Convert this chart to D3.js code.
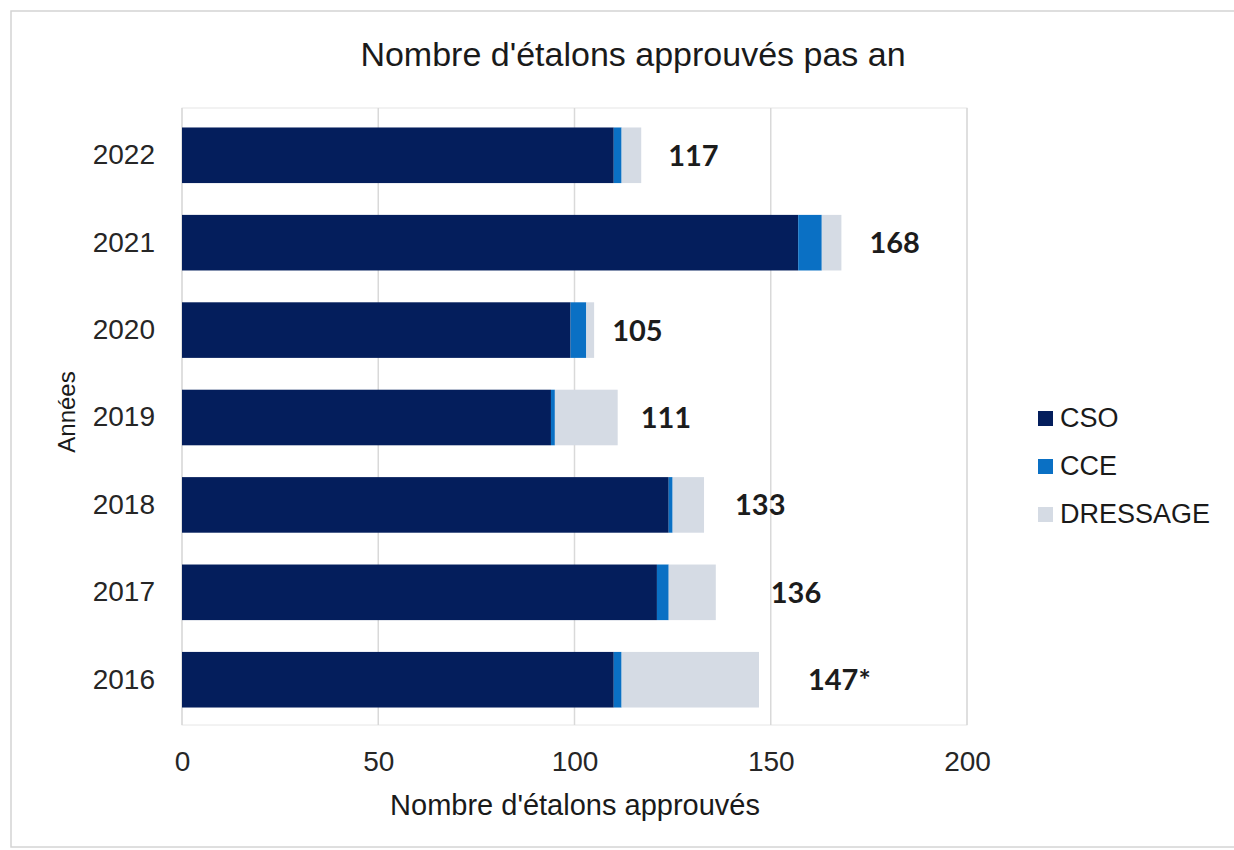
<!DOCTYPE html>
<meta charset="utf-8">
<title>Nombre d'étalons approuvés pas an</title>
<script src="https://d3js.org/d3.v7.min.js"></script>
<style>
  body { margin: 0; background: #fff; }
  text { font-family: "Liberation Sans", Arial, sans-serif; }
  .val { font-family: Lato, "Open Sans", sans-serif; font-weight: bold; }
</style>
<body>
<div id="chart"></div>
<script>
// data
var years = ["2022", "2021", "2020", "2019", "2018", "2017", "2016"];
var cso = [110, 157, 99, 94, 124, 121, 110];
var cce = [2, 6, 4, 1, 1, 3, 2];
var dressage = [5, 5, 2, 16, 8, 12, 35];
var totalLabels = ["117", "168", "105", "111", "133", "136", "147*"];
var seriesNames = ["CSO", "CCE", "DRESSAGE"];
var seriesColors = ["#041e5c", "#0a70c4", "#d5dbe4"];
var xTicks = [0, 50, 100, 150, 200];

// hand placed labels in the original: extra px after each bar end
var labelNudge = [27, 28, 18, 23, 31, 55, 49];

var W = 1234, H = 850;
var plot = {left: 182, right: 967, top: 108, bottom: 725};

var svg = d3.select("#chart").append("svg")
    .attr("width", W)
    .attr("height", H);

// outer frame
svg.append("rect")
    .attr("x", 11).attr("y", 11)
    .attr("width", W + 10).attr("height", H - 14)
    .attr("fill", "#fff")
    .attr("stroke", "#d4d4d4")
    .attr("stroke-width", 1.5);

var table = years.map(function(y, i) {
  return {year: y, CSO: cso[i], CCE: cce[i], DRESSAGE: dressage[i]};
});
var stacked = d3.stack().keys(seriesNames)(table);

var x = d3.scaleLinear()
    .domain([0, 200])
    .range([plot.left, plot.right]);

var y = d3.scaleBand()
    .domain(years)
    .range([plot.top + 2, plot.bottom])
    .paddingInner(0.364)
    .paddingOuter(0.2);

// plot frame + gridlines
svg.append("rect")
    .attr("x", plot.left).attr("y", plot.top)
    .attr("width", plot.right - plot.left)
    .attr("height", plot.bottom - plot.top)
    .attr("fill", "none")
    .attr("stroke", "#e6e6e6");

svg.append("g")
    .selectAll("line")
    .data(xTicks)
    .join("line")
      .attr("x1", function(d) { return x(d); })
      .attr("x2", function(d) { return x(d); })
      .attr("y1", plot.top)
      .attr("y2", plot.bottom)
      .attr("stroke", "#d9d9d9")
      .attr("stroke-width", 1.5);

// bars
svg.append("g")
  .selectAll("g")
  .data(stacked)
  .join("g")
    .attr("fill", function(d, i) { return seriesColors[i]; })
  .selectAll("rect")
  .data(function(d) { return d; })
  .join("rect")
    .attr("x", function(d) { return x(d[0]); })
    .attr("y", function(d) { return y(d.data.year); })
    .attr("width", function(d) { return x(d[1]) - x(d[0]); })
    .attr("height", y.bandwidth());

// totals
var lastSeries = stacked[stacked.length - 1];
svg.append("g")
  .selectAll("text")
  .data(lastSeries)
  .join("text")
    .attr("class", "val")
    .attr("x", function(d, i) { return x(d[1]) + labelNudge[i]; })
    .attr("y", function(d) { return y(d.data.year) + y.bandwidth() / 2; })
    .attr("dy", "0.36em")
    .attr("font-size", 29)
    .attr("fill", "#1c1c1c")
    .text(function(d, i) { return totalLabels[i]; });

// y axis labels
var yAxis = svg.append("g")
    .attr("transform", "translate(" + (plot.left - 27) + ",0)")
    .call(d3.axisLeft(y).tickSize(0).tickPadding(0));
yAxis.select(".domain").remove();
yAxis.selectAll("text")
    .attr("font-size", 28)
    .attr("font-family", "Liberation Sans, Arial, sans-serif")
    .attr("fill", "#262626");

// x axis labels
var xAxis = svg.append("g")
    .attr("transform", "translate(0," + plot.bottom + ")")
    .call(d3.axisBottom(x).tickValues(xTicks).tickSize(0).tickPadding(26));
xAxis.select(".domain").remove();
xAxis.selectAll("text")
    .attr("font-size", 28)
    .attr("font-family", "Liberation Sans, Arial, sans-serif")
    .attr("fill", "#262626");

// titles
svg.append("text")
    .attr("x", 633)
    .attr("y", 66)
    .attr("text-anchor", "middle")
    .attr("font-size", 34)
    .attr("fill", "#1a1a1a")
    .text("Nombre d'étalons approuvés pas an");

svg.append("text")
    .attr("x", 575)
    .attr("y", 815)
    .attr("text-anchor", "middle")
    .attr("font-size", 29)
    .attr("fill", "#1a1a1a")
    .text("Nombre d'étalons approuvés");

svg.append("text")
    .attr("transform", "translate(75,412) rotate(-90)")
    .attr("text-anchor", "middle")
    .attr("font-size", 24)
    .attr("fill", "#1a1a1a")
    .text("Années");

// legend
var legend = svg.append("g")
  .selectAll("g")
  .data(seriesNames)
  .join("g")
    .attr("transform", function(d, i) { return "translate(1038," + (411 + i * 48) + ")"; });
legend.append("rect")
    .attr("width", 15)
    .attr("height", 15)
    .attr("fill", function(d, i) { return seriesColors[i]; });
legend.append("text")
    .attr("x", 22)
    .attr("y", 16)
    .attr("font-size", 27)
    .attr("fill", "#1a1a1a")
    .text(function(d) { return d; });
</script>
</body>
